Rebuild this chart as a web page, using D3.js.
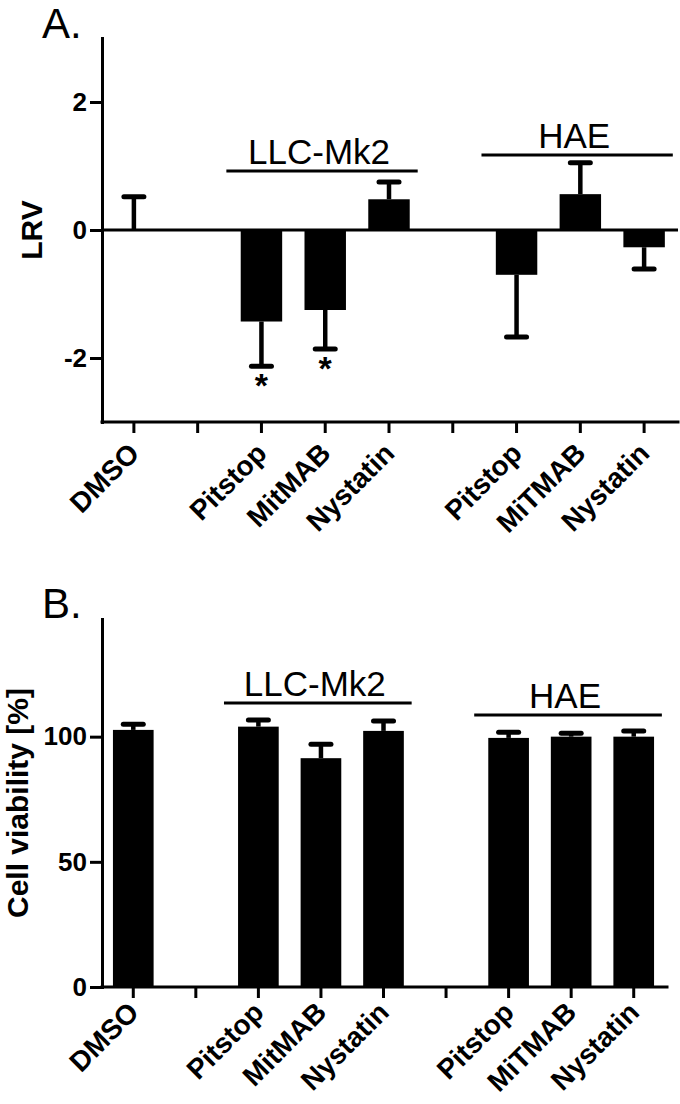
<!DOCTYPE html>
<html>
<head>
<meta charset="utf-8">
<script src="https://cdn.jsdelivr.net/npm/d3@7"></script>
<style>
  body { margin: 0; background: #fff; }
  text { font-family: Arial, "Liberation Sans", sans-serif; fill: #000; }
</style>
</head>
<body>
<svg id="chart" width="680" height="1104"></svg>
<script>
// categories (two blank slots separate the groups)
var categories = ["DMSO", "gap1", "LLC-Pitstop", "LLC-MitMAB", "LLC-Nystatin", "gap2", "HAE-Pitstop", "HAE-MiTMAB", "HAE-Nystatin"]
var tickLabels = ["DMSO", "", "Pitstop", "MitMAB", "Nystatin", "", "Pitstop", "MiTMAB", "Nystatin"]

// panel A: log reduction value
var lrvMean = [0, null, -1.43, -1.25, 0.48, null, -0.70, 0.56, -0.27]
var lrvErr  = [0.52, null, 0.70, 0.61, 0.27, null, 0.97, 0.49, 0.34]
var lrvStars = ["", "", "*", "*", "", "", "", "", ""]
var lrvTicks = [-2, 0, 2]

// panel B: cell viability
var viaMean = [102.7, null, 104, 91.4, 102.3, null, 99.5, 100, 100]
var viaErr  = [2.3, null, 2.7, 5.6, 4.0, null, 2.3, 1.4, 2.3]
var viaTicks = [0, 50, 100]

// cell line groups
var groupNames = ["LLC-Mk2", "HAE"]
var groupFirst = ["LLC-Pitstop", "HAE-Pitstop"]
var groupLast  = ["LLC-Nystatin", "HAE-Nystatin"]
var lrvGroupLevel = [0.92, 1.17]
var viaGroupLevel = [113.4, 108.7]

var svg = d3.select("#chart")

function drawPanel(opt) {
  var g = svg.append("g")
  var x = d3.scaleBand().domain(categories).range(opt.xRange).paddingInner(0.35).paddingOuter(0.175)
  var y = d3.scaleLinear().domain(opt.yDomain).range(opt.yRange)
  var step = x.step()
  var cx = function(c) { return x(c) + x.bandwidth() / 2 }

  // panel letter
  g.append("text").attr("x", 42).attr("y", opt.letterY)
    .style("font-size", "42px").text(opt.letter)

  // bars
  var rows = categories.map(function(c, i) {
    return {key: c, mean: opt.mean[i], err: opt.err[i], star: opt.stars ? opt.stars[i] : ""}
  }).filter(function(d) { return d.mean !== null })

  g.selectAll("rect.bar").data(rows).enter().append("rect")
    .attr("class", "bar")
    .attr("x", function(d) { return x(d.key) })
    .attr("width", x.bandwidth())
    .attr("y", function(d) { return Math.min(y(0), y(d.mean)) })
    .attr("height", function(d) { return Math.abs(y(d.mean) - y(0)) })
    .style("fill", "#000")

  // error bars, one-sided in the direction of the bar
  var tipOf = function(d) { return d.mean < 0 ? d.mean - d.err : d.mean + d.err }
  g.selectAll("line.stem").data(rows).enter().append("line")
    .attr("x1", function(d) { return cx(d.key) }).attr("x2", function(d) { return cx(d.key) })
    .attr("y1", function(d) { return y(d.mean) }).attr("y2", function(d) { return y(tipOf(d)) })
    .style("stroke", "#000").style("stroke-width", 4.5)
  g.selectAll("line.cap").data(rows).enter().append("line")
    .attr("x1", function(d) { return cx(d.key) - 10 }).attr("x2", function(d) { return cx(d.key) + 10 })
    .attr("y1", function(d) { return y(tipOf(d)) }).attr("y2", function(d) { return y(tipOf(d)) })
    .style("stroke", "#000").style("stroke-width", 5).style("stroke-linecap", "round")

  // significance stars
  g.selectAll("text.star").data(rows.filter(function(d) { return d.star })).enter().append("text")
    .attr("x", function(d) { return cx(d.key) })
    .attr("y", function(d) { return y(tipOf(d)) + 31 })
    .attr("text-anchor", "middle").style("font-size", "34px").style("font-weight", "bold")
    .text(function(d) { return d.star })

  // zero line
  if (opt.zeroLine) {
    g.append("line").attr("x1", opt.xRange[0]).attr("x2", opt.xRange[1] + 2)
      .attr("y1", y(0)).attr("y2", y(0))
      .style("stroke", "#000").style("stroke-width", 3)
  }

  // axes
  var yAxis = g.append("g").attr("transform", "translate(" + opt.xRange[0] + ",0)")
    .call(d3.axisLeft(y).tickValues(opt.ticks).tickFormat(function(v) { return String(v) })
      .tickSize(12).tickSizeOuter(0).tickPadding(3))
  var xAxis = g.append("g").attr("transform", "translate(0," + opt.yRange[0] + ")")
    .call(d3.axisBottom(x).tickSize(11).tickSizeOuter(0).tickFormat(function(c, i) { return tickLabels[i] }))
  xAxis.select(".domain").attr("d", "M" + opt.xRange[0] + ",0H" + (opt.xRange[1] + 2))
  ;[yAxis, xAxis].forEach(function(a) {
    a.select(".domain").style("stroke-width", 3).style("stroke-linecap", "square")
    a.selectAll(".tick line").style("stroke-width", 3)
    a.selectAll("text").style("font-family", "Arial, 'Liberation Sans', sans-serif").style("font-weight", "bold")
  })
  yAxis.selectAll("text").style("font-size", "26px")
  xAxis.selectAll(".tick text")
    .style("font-size", "28px")
    .attr("text-anchor", "end")
    .attr("dy", 0)
    .attr("y", 0)
    .attr("transform", "translate(7," + opt.labelDrop + ") rotate(-45)")

  // axis title
  g.append("text")
    .attr("transform", "translate(" + opt.titleX + "," + ((opt.yRange[0] + opt.yRange[1]) / 2) + ") rotate(-90)")
    .attr("text-anchor", "middle").style("font-size", "30px").style("font-weight", "bold")
    .text(opt.title)

  // group brackets
  groupNames.forEach(function(name, i) {
    var x1 = cx(groupFirst[i]) - step * 0.55
    var x2 = cx(groupLast[i]) + step * 0.45
    var yy = y(opt.groupLevel[i])
    g.append("line").attr("x1", x1).attr("x2", x2).attr("y1", yy).attr("y2", yy)
      .style("stroke", "#000").style("stroke-width", 3)
    g.append("text").attr("x", (x1 + x2) / 2 - 3).attr("y", yy - 7)
      .attr("text-anchor", "middle").style("font-size", "35px").text(name)
  })
}

drawPanel({
  letter: "A.", letterY: 38,
  xRange: [102, 676], yDomain: [-3, 3], yRange: [422, 38],
  mean: lrvMean, err: lrvErr, stars: lrvStars, ticks: lrvTicks, labelDrop: 33,
  zeroLine: true, title: "LRV", titleX: 42, groupLevel: lrvGroupLevel
})

drawPanel({
  letter: "B.", letterY: 618,
  xRange: [102, 665], yDomain: [0, 147], yRange: [987, 619],
  mean: viaMean, err: viaErr, ticks: viaTicks, labelDrop: 27,
  zeroLine: false, title: "Cell viability [%]", titleX: 28, groupLevel: viaGroupLevel
})
</script>
</body>
</html>
